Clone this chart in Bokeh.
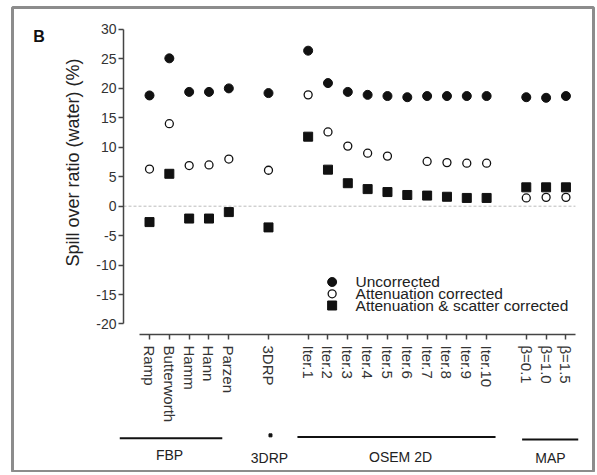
import math
from bokeh.plotting import figure
from bokeh.models import LinearAxis, FixedTicker, Range1d
from bokeh.core.properties import value
from bokeh.embed import file_html
from bokeh.resources import INLINE

# ---------------- data ----------------
fbp_methods = ["Ramp", "Butterworth", "Hamm", "Hann", "Parzen"]
drp_methods = ["3DRP"]
osem_methods = ["Iter.1", "Iter.2", "Iter.3", "Iter.4", "Iter.5",
                "Iter.6", "Iter.7", "Iter.8", "Iter.9", "Iter.10"]
map_methods = ["β=0.1", "β=1.0", "β=1.5"]
group_names = ["FBP", "3DRP", "OSEM 2D", "MAP"]

nan = float("nan")
uncorrected = [18.8, 25.1, 19.4, 19.4, 20.0,
               19.2,
               26.4, 20.9, 19.4, 18.9, 18.7, 18.5, 18.7, 18.7, 18.7, 18.7,
               18.5, 18.4, 18.7]
attenuation_corrected = [6.3, 14.0, 6.9, 7.0, 8.0,
                         6.1,
                         18.9, 12.6, 10.2, 9.0, 8.5, nan, 7.6, 7.4, 7.3, 7.3,
                         1.4, 1.5, 1.5]
atten_scatter_corrected = [-2.7, 5.5, -2.1, -2.1, -1.0,
                           -3.6,
                           11.8, 6.2, 3.9, 2.9, 2.4, 1.9, 1.8, 1.6, 1.4, 1.4,
                           3.2, 3.2, 3.2]
series_names = ["Uncorrected", "Attenuation corrected",
                "Attenuation & scatter corrected"]
y_ticks = list(range(-20, 31, 5))

# ------------- category positions (one empty slot between groups) -------------
groups = [fbp_methods, drp_methods, osem_methods, map_methods]
labels, xs = [], []
pos = 0
for g in groups:
    for name in g:
        labels.append(name)
        xs.append(pos)
        pos += 1
    pos += 1

FONT = "Liberation Sans"
INK = "#111111"
AXIS = "#444444"

p = figure(width=595, height=472,
           x_range=Range1d(-6.909, 22.39), y_range=Range1d(-45.21, 33.73),
           x_axis_type=None, y_axis_type=None,
           output_backend="svg", toolbar_location=None,
           min_border_left=12, min_border_right=2,
           min_border_top=7, min_border_bottom=0)
p.outline_line_color = "#8c8c8c"
p.outline_line_width = 3
p.background_fill_color = "white"
p.border_fill_color = "white"

# y axis (offset, bounded)
yaxis = LinearAxis(fixed_location=-1.311, bounds=(-20, 30),
                   ticker=FixedTicker(ticks=y_ticks),
                   major_label_overrides={t: str(t) for t in y_ticks})
yaxis.axis_line_color = AXIS
yaxis.axis_line_width = 1.5
yaxis.major_tick_line_color = AXIS
yaxis.major_tick_line_width = 1.5
yaxis.major_tick_out = 5
yaxis.major_tick_in = 0
yaxis.minor_tick_line_color = None
yaxis.major_label_standoff = 2
yaxis.major_label_text_font = FONT
yaxis.major_label_text_font_size = "14px"
yaxis.major_label_text_color = "#333333"
p.add_layout(yaxis, "left")

# x axis (offset, bounded, category names)
xaxis = LinearAxis(fixed_location=-21.78, bounds=(-0.5, 21.48),
                   ticker=FixedTicker(ticks=xs),
                   major_label_overrides={x: l for x, l in zip(xs, labels)},
                   major_label_orientation="vertical")
xaxis.axis_line_color = AXIS
xaxis.axis_line_width = 1.5
xaxis.major_tick_line_color = AXIS
xaxis.major_tick_line_width = 1.5
xaxis.major_tick_out = 5
xaxis.major_tick_in = 0
xaxis.minor_tick_line_color = None
xaxis.major_label_standoff = 6
xaxis.major_label_text_font = FONT
xaxis.major_label_text_font_size = "15px"
xaxis.major_label_text_color = "#333333"
p.add_layout(xaxis, "below")

# zero reference line
p.segment(x0=[-1.311], y0=[0], x1=[21.48], y1=[0],
          line_color="#bbbbbb", line_width=1, line_dash="3 2")

# data
p.scatter(xs, uncorrected, marker="circle", size=9,
          fill_color=INK, line_color=INK)
p.scatter(xs, attenuation_corrected, marker="circle", size=8,
          fill_color="white", line_color=INK, line_width=1.3)
p.scatter(xs, atten_scatter_corrected, marker="square", size=9,
          fill_color=INK, line_color=INK)

# legend (manual, tight rows)
leg_y = [-12.87, -14.87, -16.86]
p.scatter([9.21], [leg_y[0]], marker="circle", size=9, fill_color=INK, line_color=INK)
p.scatter([9.21], [leg_y[1]], marker="circle", size=8, fill_color="white",
          line_color=INK, line_width=1.3)
p.scatter([9.21], [leg_y[2]], marker="square", size=9, fill_color=INK, line_color=INK)
p.text([10.39] * 3, leg_y, text=series_names, text_font=value(FONT),
       text_font_size="15.5px", text_color="#222222", text_baseline="middle",
       text_align="left")

# group brackets below the axis
p.segment(x0=[-1.50, 7.46, 18.79], y0=[-39.4, -39.2, -39.6],
          x1=[3.67, 17.45, 21.62], y1=[-39.4, -39.2, -39.6],
          line_color=INK, line_width=2)
p.scatter([6.10], [-38.9], marker="square", size=3, fill_color=INK, line_color=INK)
p.text([1.01, 6.05, 12.66, 20.22], [-42.3, -42.7, -42.6, -42.8], text=group_names,
       text_font=value(FONT), text_font_size="14px", text_color="#222222",
       text_align="center", text_baseline="alphabetic")

# y axis title and panel letter
p.text([-3.88], [7.42], text=["Spill over ratio (water) (%)"], angle=math.pi / 2,
       text_font=value(FONT), text_font_size="18px", text_color="#222222",
       text_align="center", text_baseline="middle")
p.text([-5.86], [28.86], text=["B"], text_font=value(FONT), text_font_size="16px",
       text_font_style="bold", text_color="#111111",
       text_align="left", text_baseline="alphabetic")

open("out.html", "w").write(file_html(p, INLINE))
